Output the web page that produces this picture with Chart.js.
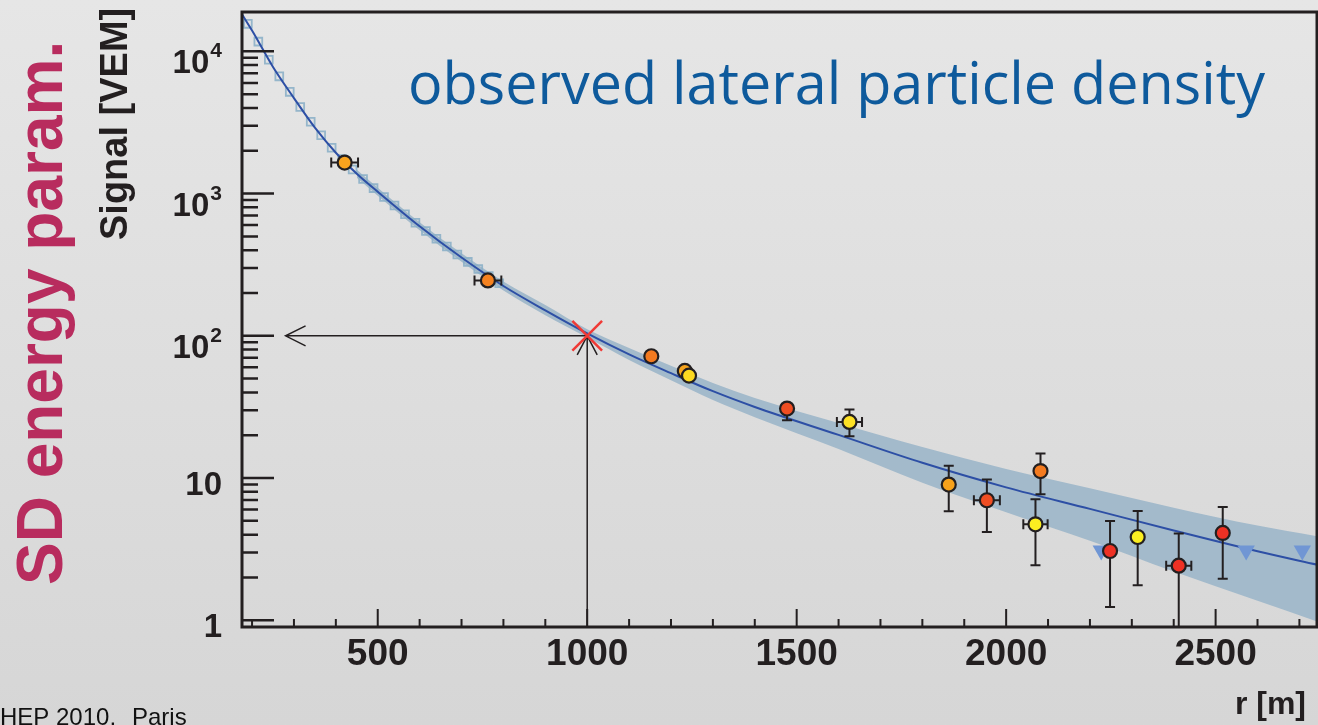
<!DOCTYPE html>
<html>
<head>
<meta charset="utf-8">
<title>observed lateral particle density</title>
<script src="https://cdn.jsdelivr.net/npm/chart.js@4.4.1/dist/chart.umd.min.js"></script>
<style>
  html, body { margin: 0; padding: 0; }
  body {
    width: 1318px;
    height: 725px;
    overflow: hidden;
    background: linear-gradient(#e6e6e6, #d6d6d6);
  }
  canvas { display: block; }
</style>
</head>
<body>
<canvas id="ldfChart" width="1318" height="725"></canvas>
<script>
// fitted lateral distribution, r [m] vs signal [VEM]
const fitR = [176, 200, 250, 300, 350, 400, 450, 500, 600, 700, 800, 900, 1000,
  1100, 1200, 1300, 1400, 1600, 1800, 2000, 2200, 2400, 2600, 2745];
const fitS = [18200, 14000, 7760, 4690, 2905, 1937, 1380, 1031, 589, 355, 224, 151, 104,
  74, 54.6, 40.8, 31.6, 20.1, 12.8, 8.6, 6.07, 4.28, 3.06, 2.45];

// uncertainty band of the fit
const bandR = [450, 500, 600, 700, 800, 900, 1000, 1100, 1200, 1300, 1400, 1600,
  1800, 2000, 2200, 2400, 2600, 2745];
const bandHigh = [1472, 1100, 628, 380, 241, 164.8, 111.4, 82.1, 61.5, 46.6, 36.6, 24.4,
  16.5, 11.6, 8.48, 6.19, 4.63, 3.88];
const bandLow = [1294, 967, 552, 331, 208, 139.3, 97.1, 67.5, 48.7, 35.4, 26.8, 16.0,
  9.27, 5.75, 3.62, 2.20, 1.37, 0.975];

// small band steps near the core
const stepR = [190, 215, 240, 265, 290, 315, 340, 365, 390, 415, 440, 465, 490,
  515, 540, 565, 590, 615, 640, 665, 690, 715, 740, 765, 790];
const stepS = [15600, 11700, 8730, 6670, 5190, 4060, 3200, 2570, 2100, 1750, 1476, 1265, 1092,
  947, 824, 716, 623, 546, 481, 424, 373, 331, 295, 263, 234];

// triggered stations
const stationR = [421, 763, 1153, 1233, 1243, 1477, 1626, 1863, 1954, 2082, 2070, 2248, 2314, 2412, 2517];
const stationS = [1651, 245, 71.8, 56.6, 52.5, 30.8, 24.8, 9.0, 6.98, 11.2, 4.73, 3.07, 3.85, 2.42, 4.11];
const stationLow = [null, null, null, null, null, 25.5, 19.7, 5.84, 4.17, 7.69, 2.44, 1.24, 1.76, 0.5, 1.96];
const stationHigh = [null, null, null, null, null, null, 30.3, 12.2, 9.75, 14.9, 7.1, 4.99, 5.87, 4.07, 6.26];
const stationRErr = [32, 32, 0, 0, 0, 0, 30, 0, 31, 0, 29, 0, 0, 30, 0];
const stationColor = ['#f8a31e', '#f58220', '#f37a20', '#f7a41d', '#fcd920', '#f04e23', '#fde125',
  '#f7a21b', '#f04e23', '#f47b20', '#fbee21', '#ee3124', '#fbee21', '#ee3124', '#ee3124'];

// silent stations (upper limits)
const silentR = [2227, 2573, 2707];
const silentS = [3.1, 3.1, 3.1];

// S(1000)
const refR = [1000];
const refS = [100];
const arrowTipR = 280;

// axis ticks
const xTicks = [500, 1000, 1500, 2000, 2500];
const yTicks = [1, 10, 100, 1000, 10000];
const yTickBase = ['1', '10', '10', '10', '10'];
const yTickExp = ['', '', '2', '3', '4'];

const pts = (xs, ys) => xs.map((x, i) => ({ x: x, y: ys[i] }));

const decor = {
  id: 'decor',
  beforeDatasetDraw(chart, args) {
    const ctx = chart.ctx;
    const xs = chart.scales.x, ys = chart.scales.y;
    const area = chart.chartArea;
    if (args.index === 0) {
      // error bars, drawn under the station markers
      ctx.save();
      ctx.strokeStyle = '#231f20';
      ctx.lineWidth = 2;
      stationR.forEach((r, i) => {
        const x = xs.getPixelForValue(r), y = ys.getPixelForValue(stationS[i]);
        ctx.beginPath();
        if (stationLow[i] !== null) {
          const yl = Math.min(ys.getPixelForValue(stationLow[i]), area.bottom);
          ctx.moveTo(x, y); ctx.lineTo(x, yl);
          if (yl < area.bottom) { ctx.moveTo(x - 5, yl); ctx.lineTo(x + 5, yl); }
        }
        if (stationHigh[i] !== null) {
          const yh = ys.getPixelForValue(stationHigh[i]);
          ctx.moveTo(x, y); ctx.lineTo(x, yh);
          ctx.moveTo(x - 5, yh); ctx.lineTo(x + 5, yh);
        }
        if (stationRErr[i] > 0) {
          const x1 = xs.getPixelForValue(r - stationRErr[i]);
          const x2 = xs.getPixelForValue(r + stationRErr[i]);
          ctx.moveTo(x1, y); ctx.lineTo(x2, y);
          ctx.moveTo(x1, y - 5); ctx.lineTo(x1, y + 5);
          ctx.moveTo(x2, y - 5); ctx.lineTo(x2, y + 5);
        }
        ctx.stroke();
      });
      ctx.restore();
    }
    if (args.index === 2) {
      // arrows from the axis to S(1000) and on to the signal axis
      const x0 = xs.getPixelForValue(refR[0]), y0 = ys.getPixelForValue(refS[0]);
      const xe = xs.getPixelForValue(arrowTipR);
      ctx.save();
      ctx.strokeStyle = '#231f20';
      ctx.lineWidth = 1.5;
      ctx.beginPath();
      ctx.moveTo(x0, area.bottom); ctx.lineTo(x0, y0);
      ctx.moveTo(x0 - 10, y0 + 19); ctx.lineTo(x0, y0); ctx.lineTo(x0 + 10, y0 + 19);
      ctx.moveTo(x0, y0); ctx.lineTo(xe, y0);
      ctx.moveTo(xe + 20, y0 - 10); ctx.lineTo(xe, y0); ctx.lineTo(xe + 20, y0 + 10);
      ctx.stroke();
      ctx.restore();
    }
  },
  afterDraw(chart) {
    const ctx = chart.ctx;
    const xs = chart.scales.x, ys = chart.scales.y;
    const { left, right, top, bottom } = chart.chartArea;
    ctx.save();
    ctx.strokeStyle = '#231f20';
    ctx.fillStyle = '#231f20';

    // frame
    ctx.lineWidth = 3;
    ctx.strokeRect(left, top, right - left, bottom - top);

    // y ticks (inside)
    ctx.lineWidth = 2.5;
    ctx.beginPath();
    for (let e = 0; e <= 4; e++) {
      for (let m = 1; m <= 9; m++) {
        const v = m * Math.pow(10, e);
        if (v < ys.min || v > ys.max) continue;
        const y = ys.getPixelForValue(v);
        ctx.moveTo(left, y);
        ctx.lineTo(left + (m === 1 ? 32 : 16), y);
      }
    }
    ctx.stroke();

    // x ticks (inside)
    ctx.lineWidth = 2;
    ctx.beginPath();
    for (let r = 200; r <= 2700; r += 100) {
      const x = xs.getPixelForValue(r);
      ctx.moveTo(x, bottom);
      ctx.lineTo(x, bottom - (r % 500 === 0 ? 18 : 8));
    }
    ctx.stroke();

    // x labels
    ctx.font = 'bold 37px "Liberation Sans", Arial, sans-serif';
    ctx.textAlign = 'center';
    ctx.textBaseline = 'alphabetic';
    xTicks.forEach(v => ctx.fillText(String(v), xs.getPixelForValue(v), 665));

    // y labels with exponents
    ctx.textAlign = 'right';
    yTicks.forEach((v, i) => {
      const y = ys.getPixelForValue(v);
      let xr = 222;
      if (yTickExp[i]) {
        ctx.font = 'bold 21px "Liberation Sans", Arial, sans-serif';
        ctx.fillText(yTickExp[i], xr, y + 6);
        xr -= ctx.measureText(yTickExp[i]).width + 1;
      }
      ctx.font = 'bold 33px "Liberation Sans", Arial, sans-serif';
      ctx.fillText(yTickBase[i], xr, y + (yTickExp[i] ? 22 : 17));
    });

    // axis titles
    ctx.textAlign = 'right';
    ctx.font = 'bold 32px "Liberation Sans", Arial, sans-serif';
    ctx.fillText('r [m]', 1306, 714);

    ctx.textAlign = 'left';
    ctx.save();
    ctx.translate(127, 240);
    ctx.rotate(-Math.PI / 2);
    ctx.font = 'bold 38px "Liberation Sans", Arial, sans-serif';
    ctx.fillText('Signal [VEM]', 0, 0);
    ctx.restore();

    ctx.save();
    ctx.translate(62, 585);
    ctx.rotate(-Math.PI / 2);
    ctx.fillStyle = '#b82c5e';
    ctx.font = 'bold 64px "Liberation Sans", Arial, sans-serif';
    ctx.fillText('SD energy param.', 0, 0);
    ctx.restore();

    // title inside the plot
    ctx.save();
    ctx.fillStyle = '#0e5a9c';
    ctx.font = '58px "Open Sans", sans-serif';
    const tw = ctx.measureText('observed lateral particle density').width;
    ctx.translate(408, 104);
    ctx.scale(857 / tw, 1);
    ctx.fillText('observed lateral particle density', 0, 0);
    ctx.restore();

    // footer
    ctx.fillStyle = '#111';
    ctx.font = '24px "Liberation Sans", Arial, sans-serif';
    const ic = ctx.measureText('IC').width;
    ctx.fillText('ICHEP 2010,', -ic, 725);
    ctx.fillText('Paris', 132, 725);

    ctx.restore();
  }
};

new Chart(document.getElementById('ldfChart'), {
  type: 'line',
  data: {
    datasets: [
      {
        label: 'stations',
        data: pts(stationR, stationS),
        showLine: false,
        pointRadius: 7,
        pointBorderWidth: 2.2,
        pointBorderColor: '#231f20',
        pointBackgroundColor: stationColor,
      },
      {
        label: 'silent',
        data: pts(silentR, silentS),
        showLine: false,
        pointStyle: 'triangle',
        pointRotation: 180,
        pointRadius: 10,
        pointBorderWidth: 0,
        pointBackgroundColor: '#7096d4',
        pointBorderColor: '#7096d4',
      },
      {
        label: 'S(1000)',
        data: pts(refR, refS),
        showLine: false,
        pointStyle: 'crossRot',
        pointRadius: 21,
        pointBorderWidth: 2.5,
        pointBorderColor: '#f03a36',
      },
      {
        label: 'fit',
        data: pts(fitR, fitS),
        borderColor: '#2d4fa5',
        borderWidth: 2,
        pointRadius: 0,
        cubicInterpolationMode: 'monotone',
        fill: false,
      },
      {
        label: 'steps',
        data: pts(stepR, stepS),
        showLine: false,
        pointStyle: 'rect',
        pointRadius: 5.5,
        pointBorderWidth: 1.8,
        pointBorderColor: 'rgba(140,176,200,0.9)',
        pointBackgroundColor: 'rgba(0,0,0,0)',
      },
      {
        label: 'band high',
        data: pts(bandR, bandHigh),
        borderWidth: 0,
        pointRadius: 0,
        cubicInterpolationMode: 'monotone',
        backgroundColor: '#a3bacb',
        fill: '+1',
      },
      {
        label: 'band low',
        data: pts(bandR, bandLow),
        borderWidth: 0,
        pointRadius: 0,
        cubicInterpolationMode: 'monotone',
        fill: false,
      },
    ],
  },
  options: {
    responsive: false,
    animation: false,
    layout: { autoPadding: false, padding: { left: 242, right: 1, top: 12, bottom: 98 } },
    scales: {
      x: { type: 'linear', min: 176, max: 2742, display: false },
      y: { type: 'logarithmic', min: 0.897, max: 18900, display: false },
    },
    plugins: {
      legend: { display: false },
      tooltip: { enabled: false },
    },
  },
  plugins: [decor],
});
</script>
</body>
</html>
